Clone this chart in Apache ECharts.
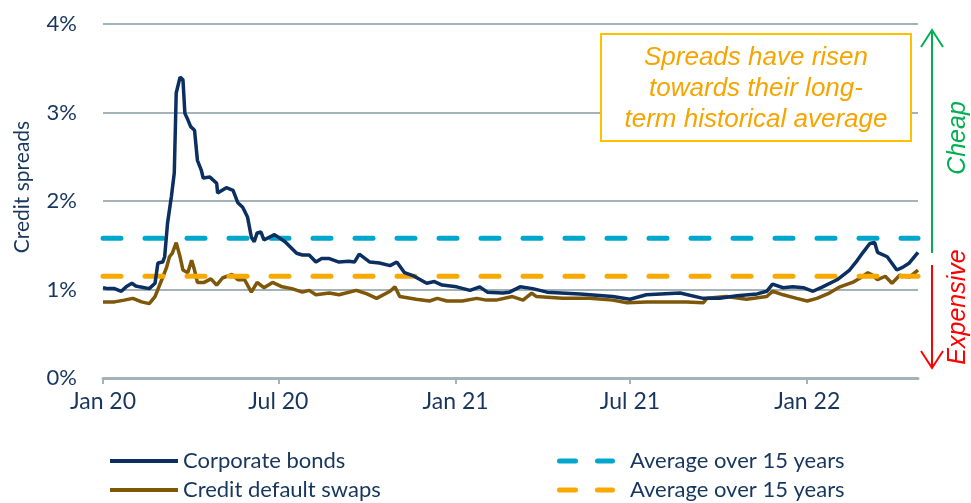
<!DOCTYPE html>
<html>
<head>
<meta charset="utf-8">
<script src="https://cdn.jsdelivr.net/npm/echarts@6/dist/echarts.min.js"></script>
<style>
html,body{margin:0;padding:0;background:#fff;}
#chart{width:971px;height:503px;}
</style>
</head>
<body>
<div id="chart"></div>
<script>
// ---- data ----
const corpDates = ['2020-01-01','2020-01-06','2020-01-13','2020-01-20','2020-01-25','2020-01-31','2020-02-04','2020-02-08','2020-02-13','2020-02-18','2020-02-24','2020-02-27','2020-03-03','2020-03-05','2020-03-08','2020-03-12','2020-03-15','2020-03-17','2020-03-21','2020-03-24','2020-03-26','2020-03-29','2020-04-01','2020-04-05','2020-04-08','2020-04-12','2020-04-14','2020-04-21','2020-04-28','2020-04-29','2020-05-08','2020-05-15','2020-05-20','2020-05-25','2020-05-30','2020-06-03','2020-06-06','2020-06-09','2020-06-13','2020-06-16','2020-06-27','2020-07-08','2020-07-20','2020-07-26','2020-08-02','2020-08-09','2020-08-15','2020-08-23','2020-09-02','2020-09-12','2020-09-18','2020-09-23','2020-10-04','2020-10-14','2020-10-25','2020-11-01','2020-11-09','2020-11-19','2020-12-02','2020-12-10','2020-12-18','2021-01-02','2021-01-16','2021-01-26','2021-02-03','2021-02-19','2021-02-26','2021-03-09','2021-03-22','2021-04-06','2021-05-10','2021-06-13','2021-07-01','2021-07-18','2021-08-22','2021-09-15','2021-10-02','2021-10-20','2021-11-10','2021-11-20','2021-11-26','2021-12-07','2021-12-17','2021-12-28','2022-01-07','2022-01-17','2022-02-01','2022-02-14','2022-02-22','2022-02-28','2022-03-07','2022-03-12','2022-03-15','2022-03-25','2022-04-04','2022-04-10','2022-04-17','2022-04-26'];
const corpValues = [1.02,1.01,1.01,0.98,1.03,1.07,1.04,1.03,1.02,1.01,1.07,1.30,1.31,1.37,1.75,2.05,2.32,3.22,3.40,3.37,2.99,2.92,2.84,2.80,2.46,2.35,2.26,2.27,2.20,2.09,2.15,2.12,1.98,1.93,1.82,1.59,1.54,1.64,1.65,1.56,1.62,1.54,1.41,1.39,1.39,1.31,1.35,1.35,1.31,1.32,1.31,1.40,1.31,1.30,1.27,1.31,1.19,1.15,1.07,1.09,1.05,1.03,0.99,1.03,0.97,0.96,0.97,1.03,1.01,0.97,0.95,0.92,0.89,0.94,0.96,0.90,0.90,0.93,0.95,0.98,1.06,1.02,1.03,1.02,0.98,1.03,1.11,1.22,1.33,1.42,1.52,1.53,1.42,1.37,1.22,1.25,1.30,1.42];

const cdsDates = ['2020-01-01','2020-01-13','2020-01-23','2020-02-01','2020-02-10','2020-02-18','2020-02-24','2020-03-02','2020-03-07','2020-03-10','2020-03-13','2020-03-17','2020-03-21','2020-03-24','2020-03-29','2020-04-02','2020-04-05','2020-04-08','2020-04-15','2020-04-22','2020-04-28','2020-05-04','2020-05-14','2020-05-20','2020-05-27','2020-06-03','2020-06-09','2020-06-16','2020-06-25','2020-07-05','2020-07-15','2020-07-26','2020-08-02','2020-08-09','2020-08-23','2020-09-02','2020-09-20','2020-10-01','2020-10-11','2020-10-25','2020-10-30','2020-11-04','2020-11-21','2020-12-05','2020-12-13','2020-12-23','2021-01-08','2021-01-23','2021-02-02','2021-02-12','2021-03-01','2021-03-12','2021-03-21','2021-03-26','2021-04-22','2021-05-20','2021-06-13','2021-06-28','2021-07-18','2021-08-22','2021-08-29','2021-09-15','2021-09-19','2021-10-09','2021-10-30','2021-11-20','2021-11-26','2021-12-07','2021-12-21','2022-01-01','2022-01-11','2022-01-24','2022-02-04','2022-02-17','2022-02-25','2022-03-05','2022-03-10','2022-03-15','2022-03-23','2022-03-30','2022-04-07','2022-04-17','2022-04-26'];
const cdsValues = [0.86,0.86,0.88,0.90,0.86,0.84,0.92,1.11,1.25,1.37,1.41,1.53,1.37,1.22,1.19,1.33,1.22,1.08,1.08,1.12,1.05,1.13,1.17,1.11,1.11,0.97,1.08,1.02,1.08,1.03,1.01,0.97,0.99,0.94,0.96,0.94,0.99,0.95,0.90,0.98,1.03,0.92,0.89,0.87,0.90,0.87,0.87,0.90,0.88,0.88,0.92,0.88,0.96,0.92,0.90,0.90,0.88,0.85,0.86,0.86,0.86,0.85,0.90,0.92,0.89,0.92,0.98,0.94,0.90,0.87,0.90,0.96,1.03,1.08,1.13,1.19,1.16,1.11,1.15,1.07,1.16,1.14,1.22];

const avgDates = ['2020-01-01','2022-04-26'];
const avgCorpValues = [1.58, 1.58];
const avgCdsValues = [1.15, 1.15];

const tickDates = ['2020-01-01','2020-07-01','2021-01-01','2021-07-01','2022-01-01'];
const tickLabels = ['Jan 20','Jul 20','Jan 21','Jul 21','Jan 22'];

const seriesNames = ['Corporate bonds','Credit default swaps','Average over 15 years','Average over 15 years '];
const annotationLines = ['Spreads have risen','towards their long-','term historical average'];

// ---- helpers ----
function ts(s){ const p = s.split('-').map(Number); return Date.UTC(p[0], p[1]-1, p[2]); }
const tickValues = tickDates.map(ts);
function zip(d, v){ return d.map((x,i)=>[ts(x), v[i]]); }

const NAVY_TXT = '#17365D';
const GRID = '#A3B3B8';
const FONT = 'Lato, "Open Sans", sans-serif';
const DASH_ICON = 'path://M2.5 0H18.5A2.5 2.5 0 0 1 18.5 5H2.5A2.5 2.5 0 0 1 2.5 0Z M40.5 0H55.5A2.5 2.5 0 0 1 55.5 5H40.5A2.5 2.5 0 0 1 40.5 0Z M68 0';

const chart = echarts.init(document.getElementById('chart'), null, {renderer:'canvas'});
chart.setOption({
  animation: false,
  backgroundColor: '#ffffff',
  grid: {left: 103, right: 53, top: 24, bottom: 125, containLabel: false},
  xAxis: {
    type: 'value',
    min: ts('2020-01-01'),
    max: ts('2022-04-26'),
    axisLine: {show: true, lineStyle: {color: GRID, width: 3}},
    axisTick: {show: true, length: 6, customValues: tickValues, lineStyle: {color: GRID, width: 2}},
    axisLabel: {
      customValues: tickValues,
      color: NAVY_TXT, fontFamily: FONT, fontSize: 23, margin: 12,
      formatter: function(v){ const i = tickValues.indexOf(v); return i >= 0 ? tickLabels[i] : ''; }
    },
    splitLine: {show: false}
  },
  yAxis: {
    type: 'value', min: 0, max: 4, interval: 1,
    name: 'Credit spreads', nameLocation: 'middle', nameGap: 70,
    nameTextStyle: {color: NAVY_TXT, fontFamily: FONT, fontSize: 21, padding: [0,0,0,28]},
    axisLine: {show: false}, axisTick: {show: false},
    axisLabel: {formatter: '{value}%', color: NAVY_TXT, fontFamily: FONT, fontSize: 22, margin: 26},
    splitLine: {show: true, lineStyle: {color: GRID, width: 2}}
  },
  legend: [
    {
      orient: 'vertical', left: 110, top: 450, height: 80, padding: 0, itemWidth: 68, itemHeight: 4, itemGap: 7,
      textStyle: {color: NAVY_TXT, fontFamily: FONT, fontSize: 22},
      data: [
        {name: seriesNames[0], icon: 'rect'},
        {name: seriesNames[1], icon: 'rect'}
      ]
    },
    {
      orient: 'vertical', left: 557, top: 450, height: 80, padding: 0, itemWidth: 68, itemHeight: 5, itemGap: 7,
      textStyle: {color: NAVY_TXT, fontFamily: FONT, fontSize: 22},
      data: [
        {name: seriesNames[2], icon: DASH_ICON},
        {name: seriesNames[3], icon: DASH_ICON}
      ]
    }
  ],
  series: [
    {
      name: seriesNames[1], type: 'line', data: zip(cdsDates, cdsValues), symbol: 'none',
      lineStyle: {color: '#7E5709', width: 3.5}, itemStyle: {color: '#7E5709'}, z: 2
    },
    {
      name: seriesNames[2], type: 'line', data: zip(avgDates, avgCorpValues), symbol: 'none',
      lineStyle: {color: '#00A7CC', width: 5, type: [18,24], cap: 'round'}, itemStyle: {color: '#00A7CC'}, z: 3
    },
    {
      name: seriesNames[3], type: 'line', data: zip(avgDates, avgCdsValues), symbol: 'none',
      lineStyle: {color: '#F8A900', width: 5, type: [18,24], cap: 'round'}, itemStyle: {color: '#F8A900'}, z: 3
    },
    {
      name: seriesNames[0], type: 'line', data: zip(corpDates, corpValues), symbol: 'none',
      lineStyle: {color: '#0A2F60', width: 3.5}, itemStyle: {color: '#0A2F60'}, z: 4
    }
  ],
  graphic: [
    {type: 'rect', shape: {x: 601, y: 34, width: 310, height: 107}, style: {fill: '#ffffff', stroke: '#FFC000', lineWidth: 2}, z: 10},
    {type: 'text', x: 756, y: 89, z: 11, style: {
      text: annotationLines.join('\n'), fill: '#F5A500', align: 'center', verticalAlign: 'middle',
      font: 'italic 26px "Liberation Sans", Arial, sans-serif', lineHeight: 31}},
    {type: 'polyline', z: 10, shape: {points: [[932,253],[932,30]]}, style: {stroke: '#00B050', lineWidth: 2, fill: null}},
    {type: 'polyline', z: 10, shape: {points: [[921,47],[932,30],[943,47]]}, style: {stroke: '#00B050', lineWidth: 2, fill: null}},
    {type: 'polyline', z: 10, shape: {points: [[932,265],[932,368]]}, style: {stroke: '#FF0000', lineWidth: 2, fill: null}},
    {type: 'polyline', z: 10, shape: {points: [[921,351],[932,368],[943,351]]}, style: {stroke: '#FF0000', lineWidth: 2, fill: null}},
    {type: 'text', x: 958, y: 138, rotation: Math.PI/2, z: 11, style: {
      text: 'Cheap', fill: '#00B050', align: 'center', verticalAlign: 'middle',
      font: 'italic 25px "Liberation Sans", Arial, sans-serif'}},
    {type: 'text', x: 958, y: 307, rotation: Math.PI/2, z: 11, style: {
      text: 'Expensive', fill: '#FF0000', align: 'center', verticalAlign: 'middle',
      font: 'italic 25px "Liberation Sans", Arial, sans-serif'}}
  ]
});
</script>
</body>
</html>
